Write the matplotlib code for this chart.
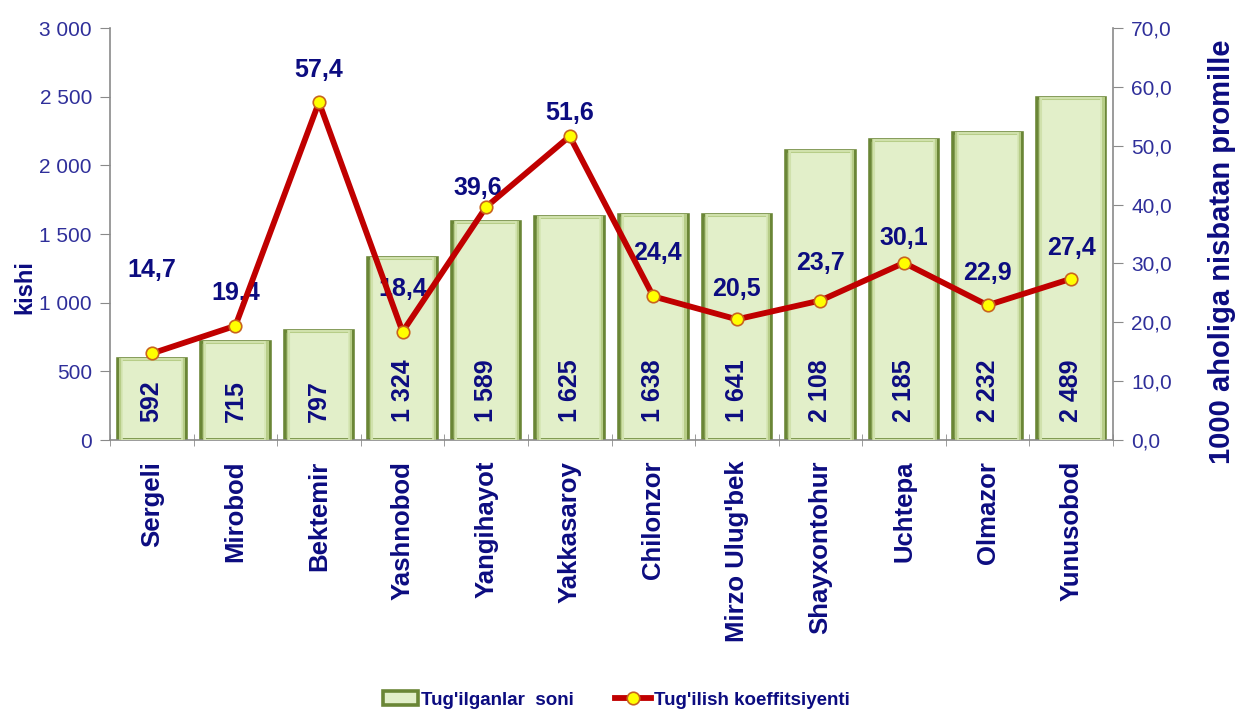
import numpy as np
import matplotlib
matplotlib.use("Agg")
import matplotlib.pyplot as plt
from matplotlib.ticker import FuncFormatter, MultipleLocator, FixedLocator

plt.rcParams['font.family'] = ['Liberation Sans', 'DejaVu Sans']

districts = ['Sergeli', 'Mirobod', 'Bektemir', 'Yashnobod', 'Yangihayot',
             'Yakkasaroy', 'Chilonzor', "Mirzo Ulug'bek", 'Shayxontohur',
             'Uchtepa', 'Olmazor', 'Yunusobod']
births = [592, 715, 797, 1324, 1589, 1625, 1638, 1641, 2108, 2185, 2232, 2489]
birth_rate = [14.7, 19.4, 57.4, 18.4, 39.6, 51.6, 24.4, 20.5, 23.7, 30.1, 22.9, 27.4]

# label placement for the rate values (pixels above / beside each point)
label_dy = [83, 33, 32, 43, 19, 23, 43, 30, 38, 25, 32, 31]
label_dx = [0, 0, 0, 0, -8, 0, 4, 0, 0, 0, 0, 0]

NAVY = '#0c0c80'
TICK_BLUE = '#2f2f9a'
GRAY = '#8a8a8a'


def thousands(v, pos):
    return f"{int(v):,}".replace(',', ' ')


def comma1(v, pos):
    return f"{v:.1f}".replace('.', ',')


fig = plt.figure(figsize=(12.37, 7.11), dpi=100)
ax = fig.add_axes([110 / 1237, 1 - 440 / 711, 1003 / 1237, 412 / 711])
ax2 = ax.twinx()

x = np.arange(len(districts))
bars = ax.bar(x, births, width=0.82, color='#e2efc9', edgecolor='#6a8636',
              linewidth=2.6, zorder=2)
# bevel bands inside each bar
ax.bar(x, births, width=0.75, color='none', edgecolor='#b7cd88',
       linewidth=2.2, zorder=3)
ax.bar(x, births, width=0.72, color='none', edgecolor='#d6e6b4',
       linewidth=1.2, zorder=3)

for xi, b in zip(x, births):
    ax.annotate(thousands(b, None), (xi, 0), xytext=(0, 18),
                textcoords='offset pixels', rotation=90, ha='center',
                va='bottom', fontsize=18, fontweight='bold', color=NAVY,
                zorder=4)

ax.set_xlim(-0.5, len(districts) - 0.5)
ax.set_ylim(0, 3000)
ax.yaxis.set_major_locator(MultipleLocator(500))
ax.yaxis.set_major_formatter(FuncFormatter(thousands))
ax.set_xticks(x)
ax.set_xticklabels(districts, rotation=90, fontsize=18.5, fontweight='bold',
                   color=NAVY)
ax.xaxis.set_minor_locator(FixedLocator(np.arange(-0.5, len(districts), 1.0)))
ax.tick_params(axis='x', which='major', length=0, pad=15)
ax.tick_params(axis='x', which='minor', length=9, direction='inout',
               color=GRAY)
ax.tick_params(axis='y', length=7, color=GRAY, labelsize=15,
               labelcolor=TICK_BLUE, pad=6)
ax.set_ylabel('kishi', fontsize=17, fontweight='bold', color=NAVY)
ax.yaxis.set_label_coords(-0.073, 0.37)

ax2.plot(x, birth_rate, color='#c00000', linewidth=4.2, marker='o',
         markersize=9, markerfacecolor='#ffff00', markeredgecolor='#c8641e',
         markeredgewidth=1.2, zorder=5)
for xi, r, dy, dx in zip(x, birth_rate, label_dy, label_dx):
    ax2.annotate(comma1(r, None), (xi, r), xytext=(dx, dy),
                 textcoords='offset pixels', ha='center', va='center',
                 fontsize=18, fontweight='bold', color=NAVY)
ax2.set_ylim(0, 70)
ax2.yaxis.set_major_locator(MultipleLocator(10))
ax2.yaxis.set_major_formatter(FuncFormatter(comma1))
ax2.tick_params(axis='y', length=7, color=GRAY, labelsize=15,
                labelcolor=TICK_BLUE, pad=6)
ax2.set_ylabel('1000 aholiga nisbatan promille', fontsize=21,
               fontweight='bold', color=NAVY)
ax2.yaxis.set_label_coords(1.095, 0.456)

for a in (ax, ax2):
    a.spines['top'].set_visible(False)
    for s in ('left', 'right', 'bottom'):
        a.spines[s].set_color(GRAY)
        a.spines[s].set_linewidth(1.2)
ax.spines['right'].set_visible(False)
ax2.spines['left'].set_visible(False)
ax2.spines['bottom'].set_visible(False)

line_handle = ax2.lines[0]
leg = fig.legend([bars, line_handle],
                 ["Tug'ilganlar  soni", "Tug'ilish koeffitsiyenti"],
                 loc='center', bbox_to_anchor=(616 / 1237, 1 - 700 / 711),
                 ncol=2, frameon=False, handlelength=1.9, columnspacing=2.2,
                 handletextpad=0.15, borderpad=0.2,
                 prop={'size': 13.5, 'weight': 'bold'})
for t in leg.get_texts():
    t.set_color(NAVY)

fig.savefig('out.png', dpi=100)
